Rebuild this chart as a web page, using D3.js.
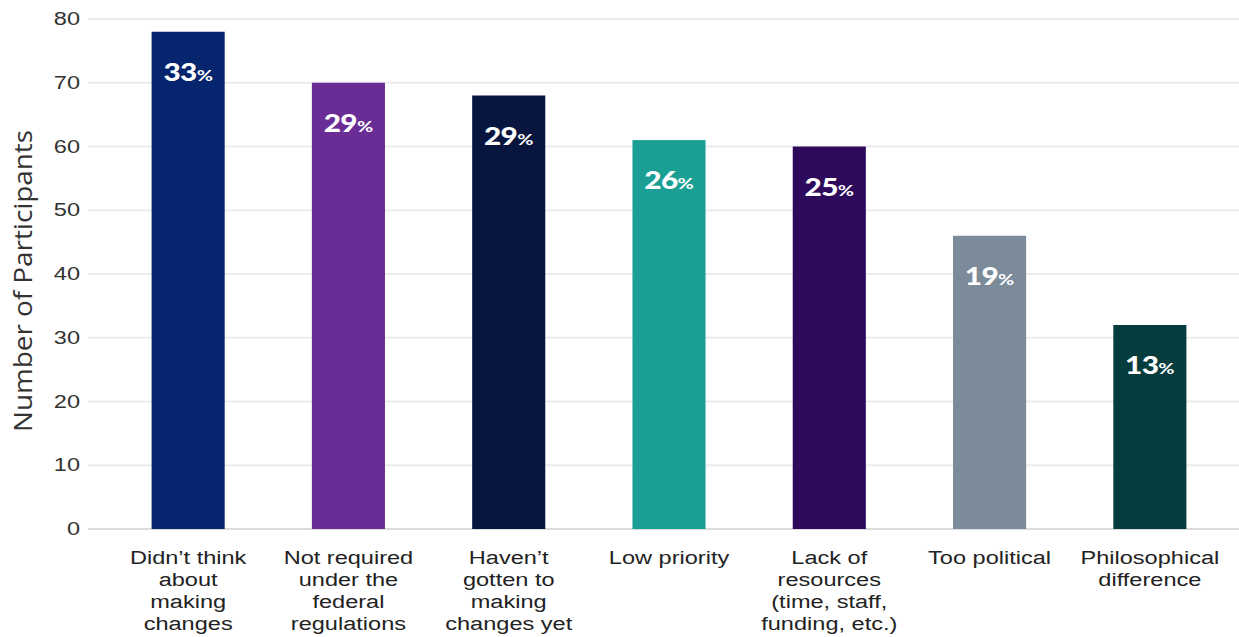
<!DOCTYPE html>
<html>
<head>
<meta charset="utf-8">
<script src="https://cdn.jsdelivr.net/npm/d3@7"></script>
<style>
  html, body { margin: 0; padding: 0; background: #ffffff; }
  svg { display: block; }
</style>
</head>
<body>
<svg id="chart" width="1239" height="637"></svg>
<script>
// Reasons reported by participants
const categories = [
  ["Didn\u2019t think", "about", "making", "changes"],
  ["Not required", "under the", "federal", "regulations"],
  ["Haven\u2019t", "gotten to", "making", "changes yet"],
  ["Low priority"],
  ["Lack of", "resources", "(time, staff,", "funding, etc.)"],
  ["Too political"],
  ["Philosophical", "difference"]
];
const counts = [78, 70, 68, 61, 60, 46, 32];
const percents = [33, 29, 29, 26, 25, 19, 13];
const barColors = ["#06256f", "#6a2d95", "#08163f", "#1b9f95", "#2d0a5c", "#7b8b9a", "#073c3e"];
const yTicks = [0, 10, 20, 30, 40, 50, 60, 70, 80];

const svg = d3.select("#chart");
const W = 1239;
const gridLeft = 88;
const stretch = 1.24; // wide text rendering

const x = d3.scaleBand()
  .domain(d3.range(categories.length))
  .range([108, 1230])
  .paddingInner(0.544)
  .paddingOuter(0.272);

const y = d3.scaleLinear().domain([0, 80]).range([529, 19]);

// gridlines
svg.append("g")
  .selectAll("line")
  .data(yTicks)
  .join("line")
  .attr("x1", gridLeft)
  .attr("x2", W)
  .attr("y1", d => y(d))
  .attr("y2", d => y(d))
  .attr("stroke", d => d === 0 ? "#dcdcdc" : "#ececec")
  .attr("stroke-width", 2);

// y axis labels
const yAxis = d3.axisLeft(y).tickValues(yTicks).tickSize(0).tickPadding(0);
const gy = svg.append("g").attr("transform", "translate(80,0)").call(yAxis);
gy.select(".domain").remove();
gy.selectAll(".tick").attr("transform", d => `translate(0,${y(d)}) scale(${stretch},1)`);
gy.selectAll("text")
  .attr("font-family", "Liberation Sans, Arial, sans-serif")
  .attr("font-size", 19)
  .attr("fill", "#333333");

// y axis title
svg.append("text")
  .attr("transform", "translate(32,281) rotate(-90)")
  .attr("text-anchor", "middle")
  .attr("font-family", "'Open Sans', sans-serif")
  .attr("font-size", 25)
  .attr("textLength", 302)
  .attr("lengthAdjust", "spacingAndGlyphs")
  .attr("fill", "#333333")
  .text("Number of Participants");

// bars
svg.append("g")
  .selectAll("rect")
  .data(counts)
  .join("rect")
  .attr("x", (d, i) => x(i))
  .attr("width", x.bandwidth())
  .attr("y", d => y(d))
  .attr("height", d => y(0) - y(d))
  .attr("fill", (d, i) => barColors[i]);

// percent labels
const lbl = svg.append("g")
  .selectAll("text")
  .data(percents)
  .join("text")
  .attr("transform", (d, i) => `translate(${x(i) + x.bandwidth() / 2},${y(counts[i]) + 49}) scale(${stretch},1)`)
  .attr("text-anchor", "middle")
  .attr("font-family", "Lato, 'Open Sans', sans-serif")
  .attr("font-weight", 900)
  .attr("fill", "#ffffff");
lbl.append("tspan").attr("font-size", 24).attr("letter-spacing", -0.5).text(d => d);
lbl.append("tspan").attr("font-size", 16).attr("font-weight", 700).text("%");

// category labels
const cat = svg.append("g")
  .selectAll("text")
  .data(categories)
  .join("text")
  .attr("transform", (d, i) => `translate(${x(i) + x.bandwidth() / 2},564) scale(${stretch},1)`)
  .attr("text-anchor", "middle")
  .attr("font-family", "Liberation Sans, Arial, sans-serif")
  .attr("font-size", 19)
  .attr("fill", "#222222");
cat.selectAll("tspan")
  .data(d => d)
  .join("tspan")
  .attr("x", 0)
  .attr("dy", (d, j) => j === 0 ? 0 : 22)
  .text(d => d);
</script>
</body>
</html>
